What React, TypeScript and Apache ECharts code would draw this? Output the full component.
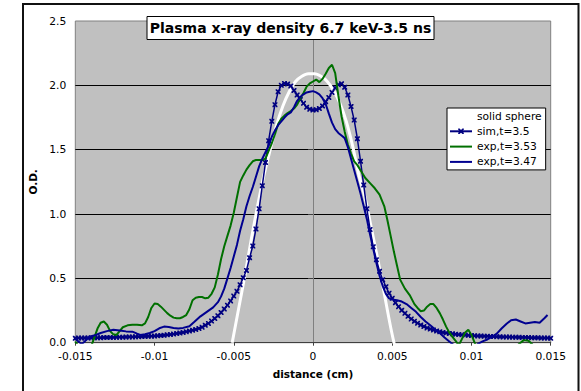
import React, { useEffect, useRef } from "react";
import * as echarts from "echarts";

const xTicks = [-0.015, -0.01, -0.005, 0, 0.005, 0.01, 0.015];
const yTicks = [0, 0.5, 1, 1.5, 2, 2.5];

const seriesNames = ["solid sphere", "sim,t=3.5", "exp,t=3.53", "exp,t=3.47"];

// solid sphere
const sphereX = [-0.0051, -0.0047, -0.0043, -0.0039, -0.0035, -0.0031, -0.0027, -0.0023, -0.0019, -0.0015, -0.0011, -0.0007, -0.0003, 0.0001, 0.0005, 0.0009, 0.0013, 0.0017, 0.0021, 0.0025, 0.0029, 0.0033, 0.0037, 0.0041, 0.0045, 0.0049, 0.0052];
const sphereY = [0, 0.26, 0.52, 0.8, 1.06, 1.3, 1.5, 1.69, 1.84, 1.95, 2.03, 2.07, 2.09, 2.09, 2.07, 2.03, 1.96, 1.86, 1.72, 1.53, 1.3, 1.12, 0.88, 0.64, 0.38, 0.12, -0.05];

// simulation, sampled every 0.0002 cm from -0.015
const simStart = -0.015;
const simStep = 0.0002;
const simY = [
  0.035, 0.036, 0.036, 0.037, 0.037, 0.038, 0.038, 0.039, 0.039, 0.040,
  0.040, 0.041, 0.041, 0.042, 0.043, 0.043, 0.044, 0.045, 0.045, 0.046,
  0.047, 0.048, 0.049, 0.050, 0.051, 0.052,
  0.054, 0.056, 0.058, 0.061, 0.064, 0.067, 0.071, 0.075, 0.080, 0.086,
  0.091, 0.097, 0.103, 0.111, 0.121, 0.136, 0.150, 0.168, 0.188, 0.210,
  0.235, 0.262, 0.292, 0.325, 0.362, 0.400, 0.450, 0.505, 0.562, 0.660,
  0.752, 0.884, 1.040, 1.220, 1.400, 1.570, 1.720, 1.850, 1.950, 2.000,
  2.015, 2.010, 1.995, 1.960, 1.925, 1.890, 1.860, 1.830, 1.815, 1.808,
  1.810, 1.820, 1.840, 1.872, 1.905, 1.945, 1.980, 2.005, 2.012, 1.985,
  1.925, 1.835, 1.730, 1.585, 1.410, 1.225, 1.040, 0.880, 0.745, 0.645,
  0.555, 0.490, 0.435, 0.385, 0.345, 0.310, 0.280, 0.252, 0.228, 0.205,
  0.185, 0.167, 0.152, 0.138, 0.126, 0.115, 0.106, 0.098, 0.091, 0.085,
  0.080, 0.076, 0.072, 0.069, 0.066, 0.063, 0.061, 0.059, 0.057, 0.055,
  0.054, 0.053, 0.052, 0.051, 0.050, 0.049, 0.048, 0.047, 0.046, 0.045,
  0.045, 0.044, 0.043, 0.043, 0.042, 0.041, 0.041, 0.040, 0.039, 0.039,
  0.038, 0.037, 0.037, 0.036, 0.035,
];

// experiment t=3.53 (green)
const exp353X = [-0.015, -0.0148, -0.0146, -0.0144, -0.0142, -0.014, -0.0138, -0.0136, -0.0134, -0.0132, -0.013, -0.0128, -0.0126, -0.0124, -0.0122, -0.012, -0.0117, -0.0114, -0.0111, -0.0108, -0.0106, -0.0104, -0.0102, -0.01, -0.0098, -0.0096, -0.0094, -0.0092, -0.009, -0.0088, -0.0086, -0.0084, -0.0082, -0.008, -0.0078, -0.0076, -0.0074, -0.0072, -0.007, -0.0068, -0.0066, -0.0064, -0.0062, -0.006, -0.0058, -0.0056, -0.0054, -0.0052, -0.005, -0.0048, -0.0046, -0.0044, -0.0042, -0.004, -0.0038, -0.0036, -0.0034, -0.0032, -0.003, -0.0028, -0.0026, -0.0024, -0.0022, -0.002, -0.0018, -0.0016, -0.0014, -0.0012, -0.001, -0.0008, -0.0006, -0.0004, -0.0002, 0, 0.0002, 0.0004, 0.0006, 0.0008, 0.001, 0.0012, 0.0014, 0.0016, 0.0018, 0.002, 0.0022, 0.0024, 0.0026, 0.0028, 0.003, 0.0033, 0.0036, 0.0039, 0.0042, 0.0045, 0.0047, 0.0049, 0.0051, 0.0053, 0.0055, 0.0058, 0.0061, 0.0064, 0.0066, 0.0068, 0.007, 0.0072, 0.0074, 0.0076, 0.0078, 0.008, 0.0082, 0.0084, 0.0086, 0.0088, 0.009, 0.0092, 0.0094, 0.0096, 0.0098, 0.01, 0.0102, 0.0104, 0.0108, 0.0114, 0.012, 0.0126, 0.013, 0.0133, 0.0136, 0.0139, 0.0143, 0.0148, 0.015];
const exp353Y = [0.01, -0.03, -0.06, -0.07, -0.06, -0.03, 0.04, 0.11, 0.155, 0.165, 0.14, 0.09, 0.065, 0.06, 0.09, 0.12, 0.135, 0.14, 0.14, 0.135, 0.15, 0.2, 0.27, 0.305, 0.3, 0.28, 0.255, 0.23, 0.21, 0.195, 0.19, 0.19, 0.2, 0.215, 0.26, 0.33, 0.35, 0.355, 0.355, 0.345, 0.35, 0.38, 0.43, 0.53, 0.65, 0.75, 0.83, 0.91, 1.01, 1.13, 1.25, 1.3, 1.345, 1.38, 1.41, 1.42, 1.42, 1.42, 1.43, 1.49, 1.55, 1.62, 1.7, 1.74, 1.765, 1.785, 1.8, 1.82, 1.85, 1.9, 1.94, 1.99, 2.015, 2.03, 2.045, 2.025, 2.05, 2.09, 2.135, 2.16, 2.095, 1.92, 1.76, 1.64, 1.54, 1.47, 1.41, 1.38, 1.34, 1.28, 1.24, 1.2, 1.15, 1.06, 0.95, 0.83, 0.71, 0.6, 0.49, 0.42, 0.37, 0.3, 0.27, 0.245, 0.25, 0.28, 0.3, 0.3, 0.27, 0.23, 0.18, 0.125, 0.08, 0.045, 0.015, -0.02, 0.03, 0.08, 0.1, 0.06, 0, -0.05, -0.1, -0.12, -0.1, -0.06, -0.01, 0.02, 0.015, -0.02, -0.08, -0.1, -0.1];

// experiment t=3.47 (navy)
const exp347X = [-0.015, -0.0148, -0.0146, -0.0144, -0.0142, -0.014, -0.0137, -0.0134, -0.013, -0.0126, -0.0122, -0.0118, -0.0114, -0.0111, -0.0109, -0.0106, -0.0103, -0.01, -0.0097, -0.0094, -0.0091, -0.0088, -0.0085, -0.0082, -0.0078, -0.0075, -0.0071, -0.0067, -0.0063, -0.006, -0.0058, -0.0056, -0.0054, -0.0052, -0.005, -0.0048, -0.0046, -0.0044, -0.0042, -0.004, -0.0038, -0.0036, -0.0034, -0.0032, -0.003, -0.0028, -0.0026, -0.0024, -0.0022, -0.002, -0.0018, -0.0016, -0.0014, -0.0012, -0.001, -0.0008, -0.0006, -0.0004, -0.0002, 0, 0.0002, 0.0004, 0.0006, 0.0008, 0.001, 0.0012, 0.0014, 0.0016, 0.0018, 0.002, 0.0022, 0.0024, 0.0026, 0.0028, 0.003, 0.0032, 0.0034, 0.0036, 0.0038, 0.004, 0.0042, 0.0044, 0.0046, 0.0048, 0.005, 0.0053, 0.0056, 0.0059, 0.0062, 0.0065, 0.0068, 0.0071, 0.0074, 0.0077, 0.008, 0.0083, 0.0086, 0.0089, 0.0092, 0.0095, 0.0098, 0.0101, 0.0104, 0.0107, 0.011, 0.0113, 0.0116, 0.0119, 0.0122, 0.0125, 0.0128, 0.0131, 0.0134, 0.0137, 0.014, 0.0143, 0.0146, 0.0148];
const exp347Y = [0.03, 0.01, -0.01, 0.01, 0.04, 0.05, 0.06, 0.075, 0.09, 0.1, 0.095, 0.088, 0.086, 0.07, 0.06, 0.065, 0.075, 0.09, 0.112, 0.125, 0.122, 0.115, 0.11, 0.115, 0.128, 0.16, 0.205, 0.24, 0.275, 0.315, 0.36, 0.42, 0.5, 0.58, 0.67, 0.76, 0.87, 0.96, 1.06, 1.14, 1.21, 1.29, 1.37, 1.43, 1.48, 1.53, 1.6, 1.65, 1.69, 1.72, 1.75, 1.775, 1.79, 1.83, 1.88, 1.91, 1.93, 1.945, 1.95, 1.955, 1.945, 1.93, 1.9, 1.855, 1.78, 1.71, 1.66, 1.63, 1.61, 1.59, 1.52, 1.43, 1.34, 1.25, 1.16, 1.06, 0.96, 0.84, 0.73, 0.62, 0.52, 0.44, 0.38, 0.345, 0.335, 0.33, 0.32, 0.3, 0.27, 0.24, 0.2, 0.165, 0.135, 0.105, 0.075, 0.04, 0.01, -0.02, -0.04, -0.05, -0.05, -0.04, -0.01, 0.01, 0.025, 0.045, 0.07, 0.11, 0.145, 0.175, 0.18, 0.165, 0.15, 0.155, 0.16, 0.155, 0.19, 0.215];

const FONT = "DejaVu Sans";
const X_SYMBOL =
  "path://M0,0L2.4,0L5,2.6L7.6,0L10,0L10,2.4L7.4,5L10,7.6L10,10L7.6,10L5,7.4L2.4,10L0,10L0,7.6L2.6,5L0,2.4Z";

const zip = (xs: number[], ys: number[]) => xs.map((x, i) => [x, ys[i]]);

export default function App() {
  const ref = useRef<HTMLDivElement>(null);
  useEffect(() => {
    if (!ref.current) return;
    const chart = echarts.init(ref.current, null, { renderer: "svg" });
    const simData = simY.map((y, i) => [+(simStart + i * simStep).toFixed(4), y]);
    chart.setOption({
      animation: false,
      backgroundColor: "#ffffff",
      title: {
        text: "Plasma x-ray density 6.7 keV-3.5 ns",
        left: "center",
        top: 16,
        padding: [3, 3, 3, 3],
        borderWidth: 1,
        borderColor: "#000",
        backgroundColor: "#fff",
        textStyle: { fontFamily: FONT, fontSize: 14, fontWeight: "bold", color: "#000", lineHeight: 18 },
      },
      legend: {
        orient: "vertical",
        left: 447,
        top: 108,
        padding: [2.5, 4, 2.5, 2],
        itemWidth: 22,
        itemHeight: 7,
        itemGap: 4.3,
        borderColor: "#000",
        borderWidth: 1,
        backgroundColor: "#fff",
        data: [
          { name: seriesNames[0], itemStyle: { opacity: 0 } },
          { name: seriesNames[1] },
          { name: seriesNames[2], itemStyle: { opacity: 0 } },
          { name: seriesNames[3], itemStyle: { opacity: 0 } },
        ],
        textStyle: { fontFamily: FONT, fontSize: 10.7, color: "#000" },
      },
      grid: { left: 75.3, right: 30.3, top: 21, bottom: 48.3, show: true, backgroundColor: "#c0c0c0", borderColor: "#808080", borderWidth: 1 },
      xAxis: {
        type: "value",
        min: xTicks[0],
        max: xTicks[xTicks.length - 1],
        interval: 0.005,
        name: "distance (cm)",
        nameLocation: "middle",
        nameGap: 26,
        nameTextStyle: { fontFamily: FONT, fontSize: 10.5, fontWeight: "bold", color: "#000" },
        axisLine: { show: true, lineStyle: { color: "#404040", width: 1 } },
        axisTick: { show: true, length: 3, lineStyle: { color: "#404040" } },
        axisLabel: {
          margin: 8,
          fontFamily: FONT,
          fontSize: 10.7,
          color: "#000",
          formatter: (v: number) => String(parseFloat(v.toFixed(4))),
        },
        splitLine: { show: false },
      },
      yAxis: {
        type: "value",
        min: yTicks[0],
        max: yTicks[yTicks.length - 1],
        interval: 0.5,
        name: "O.D.",
        nameLocation: "middle",
        nameRotate: 90,
        nameGap: 29,
        nameTextStyle: { fontFamily: FONT, fontSize: 10.5, fontWeight: "bold", color: "#000" },
        axisLine: { show: true, lineStyle: { color: "#808080", width: 1 } },
        axisTick: { show: true, length: 5, lineStyle: { color: "#404040" } },
        axisLabel: {
          margin: 9,
          fontFamily: FONT,
          fontSize: 10.7,
          color: "#000",
          formatter: (v: number) => v.toFixed(1),
        },
        splitLine: { show: true, showMinLine: false, showMaxLine: false, lineStyle: { color: "#000", width: 1 } },
      },
      series: [
        {
          name: seriesNames[0],
          type: "line",
          data: zip(sphereX, sphereY),
          symbol: "none",
          smooth: 0.3,
          lineStyle: { color: "#ffffff", width: 3 },
          itemStyle: { color: "#ffffff" },
          z: 2,
        },
        {
          name: seriesNames[1],
          type: "line",
          data: simData,
          symbol: X_SYMBOL,
          symbolSize: 5,
          showAllSymbol: true,
          lineStyle: { color: "#000080", width: 1.5 },
          itemStyle: { color: "#000080" },
          z: 3,
        },
        {
          name: seriesNames[2],
          type: "line",
          data: zip(exp353X, exp353Y),
          symbol: "none",
          lineStyle: { color: "#007000", width: 2 },
          itemStyle: { color: "#007000" },
          z: 4,
        },
        {
          name: seriesNames[3],
          type: "line",
          data: zip(exp347X, exp347Y),
          symbol: "none",
          lineStyle: { color: "#000090", width: 2 },
          itemStyle: { color: "#000090" },
          z: 5,
        },
      ],
      graphic: [
        {
          type: "rect",
          shape: { x: 23, y: 4, width: 555.5, height: 400 },
          style: { fill: "none", stroke: "#111", lineWidth: 2 },
          silent: true,
        },
      ],
    });
    return () => chart.dispose();
  }, []);
  return <div ref={ref} style={{ position: "absolute", left: 0, top: 0, width: 581, height: 391 }} />;
}
